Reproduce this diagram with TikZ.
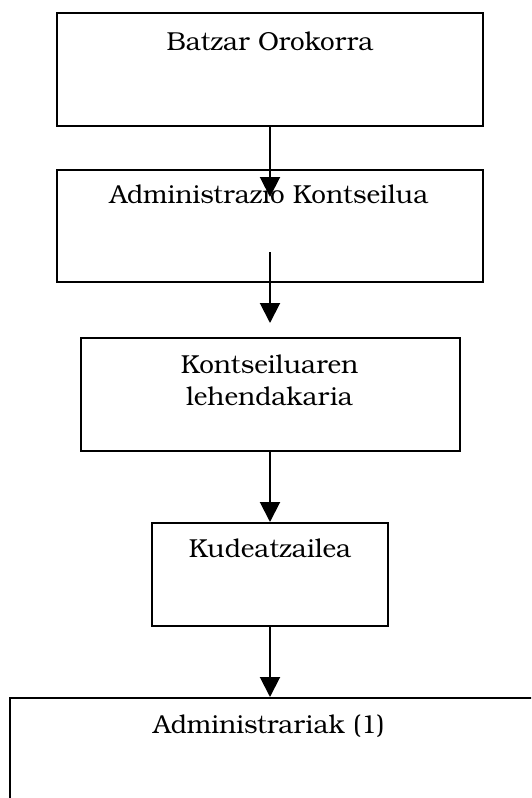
\documentclass[tikz,border=0pt]{standalone}
\usepackage{fontspec}
\setmainfont{TeX Gyre Bonum}
\usetikzlibrary{arrows.meta}
\begin{document}
\begin{tikzpicture}[x=1pt,y=-1pt,
  box/.style={draw=black, line width=2pt, rectangle, inner sep=0pt},
  txt/.style={font=\fontsize{26}{32}\selectfont, anchor=base, align=center, inner sep=0pt},
  conn/.style={line width=2pt, -{Triangle[length=20pt,width=20pt]}}]
\path[use as bounding box] (0,0) rectangle (531,798);
\clip (0,0) rectangle (531,798);
\node[box, minimum width=426pt, minimum height=113pt] (b1) at (270,69.5) {};
\node[box, minimum width=426pt, minimum height=112pt] (b2) at (270,226) {};
\node[box, minimum width=379pt, minimum height=113pt] (b3) at (270,394.5) {};
\node[box, minimum width=236pt, minimum height=103pt] (b4) at (270,574.5) {};
\node[box, minimum width=540pt, minimum height=160pt] (b5) at (280,778) {};
\node[txt] (t1) at (270,50) {Batzar Orokorra};
\node[txt] (t2) at (269,203) {Administrazio Kontseilua};
\node[txt] (t3) at (269.5,405) {Kontseiluaren\\lehendakaria};
\node[txt] (t4) at (270,557) {Kudeatzailea};
\node[txt] (t5) at (269,733) {Administrariak (1)};
\coordinate (a1) at (270,197);
\coordinate (s2) at (270,252);
\coordinate (a2) at (270,323);
\draw[conn] (b1.south) -- (a1);
\draw[conn] (s2) -- (a2);
\draw[conn] (b3.south) -- (b4.north);
\draw[conn] (b4.south) -- (b4.south |- b5.north);
\end{tikzpicture}
\end{document}
